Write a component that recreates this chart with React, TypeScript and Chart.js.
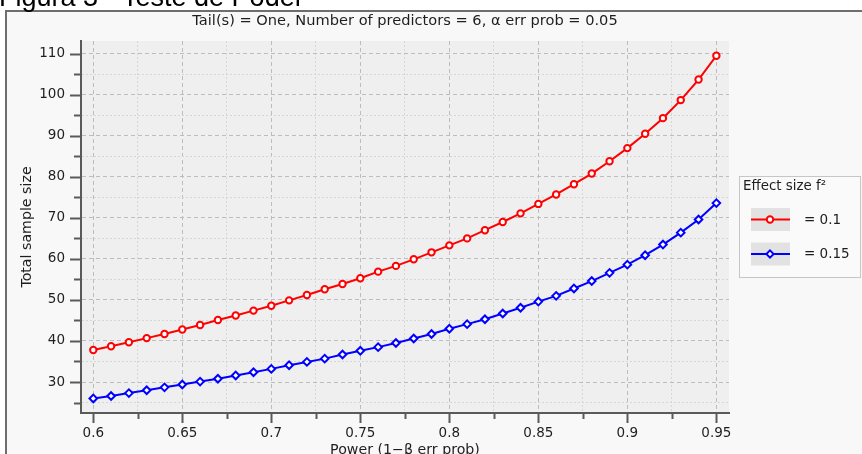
import React, { useEffect, useRef } from "react";
import { Chart, registerables } from "chart.js";

Chart.register(...registerables);

// ---- data ----
const POWER = [
  0.6, 0.61, 0.62, 0.63, 0.64, 0.65, 0.66, 0.67, 0.68, 0.69, 0.7, 0.71, 0.72, 0.73, 0.74, 0.75, 0.76, 0.77,
  0.78, 0.79, 0.8, 0.81, 0.82, 0.83, 0.84, 0.85, 0.86, 0.87, 0.88, 0.89, 0.9, 0.91, 0.92, 0.93, 0.94, 0.95,
];
const N_F2_010 = [
  37.8, 38.7, 39.7, 40.7, 41.7, 42.8, 43.9, 45.1, 46.2, 47.4, 48.6, 49.9, 51.2, 52.6, 53.9, 55.3, 56.9, 58.3,
  59.9, 61.6, 63.3, 65.0, 67.0, 69.0, 71.1, 73.4, 75.7, 78.2, 80.8, 83.8, 87.0, 90.5, 94.3, 98.7, 103.7, 109.5,
];
const N_F2_015 = [
  26.0, 26.6, 27.3, 28.0, 28.7, 29.4, 30.1, 30.8, 31.6, 32.4, 33.2, 34.1, 34.9, 35.7, 36.7, 37.6, 38.5, 39.5,
  40.6, 41.7, 43.0, 44.1, 45.3, 46.7, 48.1, 49.6, 51.0, 52.8, 54.6, 56.6, 58.6, 60.9, 63.5, 66.4, 69.6, 73.6,
];
const SERIES_LABELS = ["= 0.1", "= 0.15"];
const Y_MAJOR = [30, 40, 50, 60, 70, 80, 90, 100, 110];
const Y_MINOR = [25, 35, 45, 55, 65, 75, 85, 95, 105];
const X_MAJOR = [0.6, 0.65, 0.7, 0.75, 0.8, 0.85, 0.9, 0.95];
const X_MINOR = [0.625, 0.675, 0.725, 0.775, 0.825, 0.875, 0.925];
const X_LABELS = ["0.6", "0.65", "0.7", "0.75", "0.8", "0.85", "0.9", "0.95"];
const Y_LABELS = ["30", "40", "50", "60", "70", "80", "90", "100", "110"];
const TITLE = "Tail(s) = One, Number of predictors = 6, α err prob = 0.05";
const X_TITLE = "Power (1−β err prob)";
const Y_TITLE = "Total sample size";
const LEGEND_TITLE = "Effect size f²";
const FIG_CAPTION = "Figura 3 - Teste de Poder";

const FONT = '"DejaVu Sans", sans-serif';
const TEXT = "#1e1e1e";
const AXIS = "#5a5a5a";

const near = (a: number, b: number) => Math.abs(a - b) < 1e-6;
const idxIn = (arr: number[], v: number) => arr.findIndex((a) => near(a, v));

const decor = {
  id: "decor",
  beforeDraw(chart: any) {
    const { ctx, chartArea: ca, width, height } = chart;
    ctx.save();
    ctx.fillStyle = "#ffffff";
    ctx.fillRect(0, 0, width, height);
    // figure panel
    ctx.fillStyle = "#f8f8f8";
    ctx.fillRect(6, 11, width, height);
    ctx.strokeStyle = "#6e6e6e";
    ctx.lineWidth = 2;
    ctx.beginPath();
    ctx.moveTo(6, height);
    ctx.lineTo(6, 11);
    ctx.lineTo(width, 11);
    ctx.stroke();
    // plot background
    ctx.fillStyle = "#efefef";
    ctx.fillRect(ca.left, ca.top, ca.right - ca.left, ca.bottom - ca.top);
    // caption (cut off at the top)
    ctx.fillStyle = "#000";
    ctx.font = '27px "Liberation Sans", Arial, sans-serif';
    ctx.textAlign = "left";
    ctx.textBaseline = "alphabetic";
    ctx.fillText(FIG_CAPTION, -1, 6);
    ctx.restore();
  },
  afterDraw(chart: any) {
    const { ctx, chartArea: ca, scales } = chart;
    const xs = scales.x;
    const ys = scales.y;
    ctx.save();
    // tick marks
    ctx.strokeStyle = AXIS;
    ctx.lineWidth = 2;
    ctx.beginPath();
    Y_MAJOR.forEach((v) => {
      const y = Math.round(ys.getPixelForValue(v)) + 0.5;
      ctx.moveTo(ca.left - 11, y);
      ctx.lineTo(ca.left, y);
    });
    Y_MINOR.forEach((v) => {
      const y = Math.round(ys.getPixelForValue(v)) + 0.5;
      ctx.moveTo(ca.left - 7, y);
      ctx.lineTo(ca.left, y);
    });
    X_MAJOR.forEach((v) => {
      const x = Math.round(xs.getPixelForValue(v)) + 0.5;
      ctx.moveTo(x, ca.bottom);
      ctx.lineTo(x, ca.bottom + 10);
    });
    X_MINOR.forEach((v) => {
      const x = Math.round(xs.getPixelForValue(v)) + 0.5;
      ctx.moveTo(x, ca.bottom);
      ctx.lineTo(x, ca.bottom + 6);
    });
    ctx.stroke();

    // titles
    ctx.fillStyle = TEXT;
    ctx.font = `14.6px ${FONT}`;
    ctx.textAlign = "center";
    ctx.textBaseline = "middle";
    const cx = (ca.left + ca.right) / 2;
    ctx.fillText(TITLE, cx, 21.5);
    ctx.font = `14.2px ${FONT}`;
    ctx.textBaseline = "alphabetic";
    ctx.fillText(X_TITLE, cx, 454);
    ctx.save();
    ctx.translate(27, (ca.top + ca.bottom) / 2);
    ctx.rotate(-Math.PI / 2);
    ctx.textBaseline = "middle";
    ctx.fillText(Y_TITLE, 0, 0);
    ctx.restore();

    // legend
    const lx = 739.5, ly = 176.5, lw = 121, lh = 101;
    ctx.fillStyle = "#fafafa";
    ctx.fillRect(lx, ly, lw, lh);
    ctx.strokeStyle = "#c6c6c6";
    ctx.lineWidth = 1;
    ctx.strokeRect(lx, ly, lw, lh);
    ctx.fillStyle = TEXT;
    ctx.textAlign = "left";
    ctx.textBaseline = "middle";
    ctx.font = `13.4px ${FONT}`;
    ctx.fillText(LEGEND_TITLE, 743, 187);
    chart.data.datasets.forEach((ds: any, i: number) => {
      const top = 208 + i * 34.5;
      const mid = top + 11.5;
      ctx.fillStyle = "#e2e2e2";
      ctx.fillRect(751, top, 39, 23);
      ctx.strokeStyle = ds.borderColor;
      ctx.lineWidth = 2;
      ctx.beginPath();
      ctx.moveTo(751, mid);
      ctx.lineTo(790, mid);
      ctx.stroke();
      ctx.fillStyle = "#fff";
      ctx.beginPath();
      if (ds.pointStyle === "rectRot") {
        const r = 3.6;
        ctx.moveTo(770, mid - r);
        ctx.lineTo(770 + r, mid);
        ctx.lineTo(770, mid + r);
        ctx.lineTo(770 - r, mid);
        ctx.closePath();
      } else {
        ctx.arc(770, mid, 3.2, 0, Math.PI * 2);
      }
      ctx.fill();
      ctx.stroke();
      ctx.fillStyle = TEXT;
      ctx.font = `13.5px ${FONT}`;
      ctx.fillText(ds.label, 804, mid + 0.5);
    });
    ctx.restore();
  },
};

const gridColor = (c: any, major: (v: number) => boolean) =>
  c.tick && major(c.tick.value) ? "#bdbdbd" : "#d6d6d6";
const gridDash = (c: any, major: (v: number) => boolean) =>
  c.tick ? (major(c.tick.value) ? [4, 3] : [2, 2]) : [];

const isXMajor = (v: number) => idxIn(X_MAJOR, v) >= 0;
const isYMajor = (v: number) => idxIn(Y_MAJOR, v) >= 0;

export default function App() {
  const ref = useRef<HTMLCanvasElement | null>(null);
  useEffect(() => {
    if (!ref.current) return;
    const chart = new Chart(ref.current, {
      type: "line",
      data: {
        datasets: [
          {
            label: SERIES_LABELS[0],
            data: POWER.map((p, i) => ({ x: p, y: N_F2_010[i] })),
            borderColor: "#ff0000",
            backgroundColor: "#ffffff",
            borderWidth: 2,
            pointStyle: "circle",
            pointRadius: 3.2,
            pointBorderWidth: 2,
            pointBackgroundColor: "#ffffff",
            pointBorderColor: "#ff0000",
            tension: 0,
          },
          {
            label: SERIES_LABELS[1],
            data: POWER.map((p, i) => ({ x: p, y: N_F2_015[i] })),
            borderColor: "#0000ff",
            backgroundColor: "#ffffff",
            borderWidth: 2,
            pointStyle: "rectRot",
            pointRadius: 3.8,
            pointBorderWidth: 2,
            pointBackgroundColor: "#ffffff",
            pointBorderColor: "#0000ff",
            tension: 0,
          },
        ],
      },
      options: {
        animation: false,
        responsive: false,
        devicePixelRatio: 1,
        layout: { padding: { top: 41, right: 133, left: 0, bottom: 0 } },
        plugins: { legend: { display: false }, title: { display: false }, tooltip: { enabled: false } },
        scales: {
          x: {
            type: "linear",
            min: 0.5931,
            max: 0.9571,
            afterBuildTicks: (s: any) => {
              s.ticks = [...X_MAJOR, ...X_MINOR].sort((a, b) => a - b).map((v) => ({ value: v }));
            },
            afterFit: (s: any) => {
              s.height = 41;
            },
            ticks: {
              autoSkip: false,
              maxRotation: 0,
              minRotation: 0,
              padding: 12,
              color: TEXT,
              font: { family: FONT, size: 13.5 },
              callback: (v: any) => {
                const i = idxIn(X_MAJOR, Number(v));
                return i >= 0 ? X_LABELS[i] : "";
              },
            },
            grid: {
              drawTicks: false,
              color: (c: any) => gridColor(c, isXMajor),
              lineWidth: 1,
            },
            border: {
              display: true,
              color: AXIS,
              width: 2,
              dash: (c: any) => gridDash(c, isXMajor),
            },
          },
          y: {
            type: "linear",
            min: 22.45,
            max: 113.1,
            afterBuildTicks: (s: any) => {
              s.ticks = [...Y_MAJOR, ...Y_MINOR].sort((a, b) => a - b).map((v) => ({ value: v }));
            },
            afterFit: (s: any) => {
              s.width = 81;
            },
            ticks: {
              autoSkip: false,
              padding: 16,
              color: TEXT,
              font: { family: FONT, size: 13.5 },
              callback: (v: any) => {
                const i = idxIn(Y_MAJOR, Number(v));
                return i >= 0 ? Y_LABELS[i] : "";
              },
            },
            grid: {
              drawTicks: false,
              color: (c: any) => gridColor(c, isYMajor),
              lineWidth: 1,
            },
            border: {
              display: true,
              color: AXIS,
              width: 2,
              dash: (c: any) => gridDash(c, isYMajor),
            },
          },
        },
      },
      plugins: [decor],
    } as any);
    return () => chart.destroy();
  }, []);
  return (
    <div style={{ position: "fixed", left: 0, top: 0, width: 862, height: 454, overflow: "hidden", background: "#fff" }}>
      <canvas ref={ref} width={862} height={454} style={{ display: "block", width: 862, height: 454 }} />
    </div>
  );
}
